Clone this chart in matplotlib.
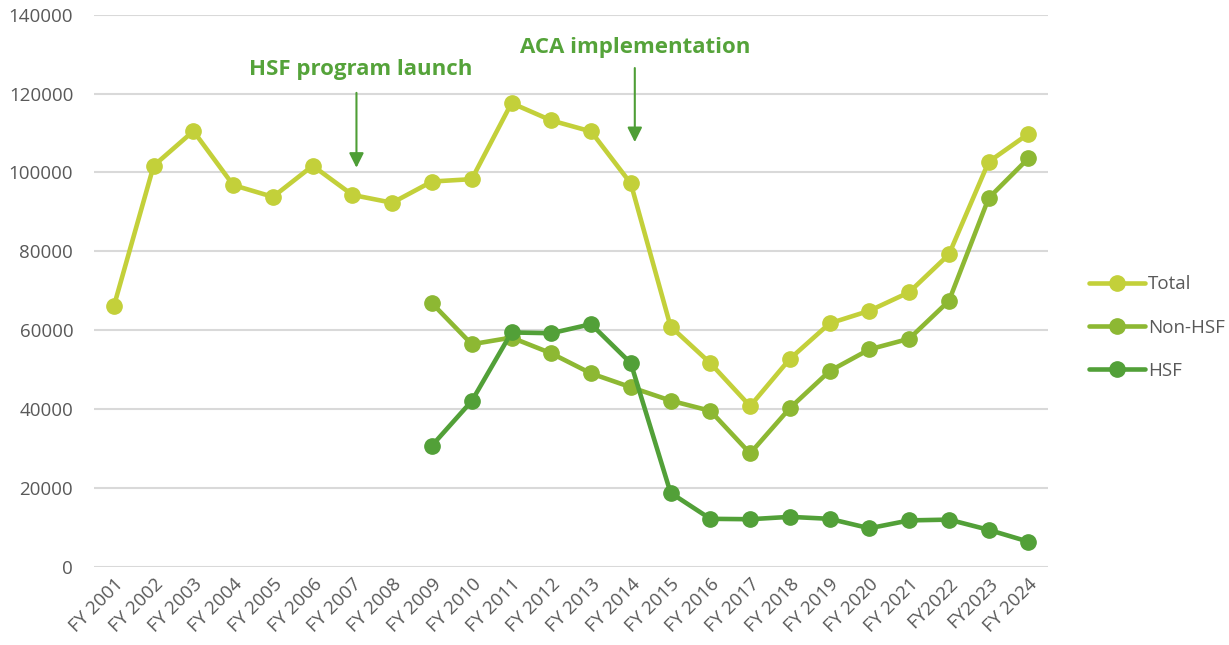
import numpy as np
import matplotlib.pyplot as plt

# Etiquetas do eixo x
anos = ["FY 2001", "FY 2002", "FY 2003", "FY 2004", "FY 2005", "FY 2006",
        "FY 2007", "FY 2008", "FY 2009", "FY 2010", "FY 2011", "FY 2012",
        "FY 2013", "FY 2014", "FY 2015", "FY 2016", "FY 2017", "FY 2018",
        "FY 2019", "FY 2020", "FY 2021", "FY2022", "FY2023", "FY 2024"]

total = [66100, 101700, 110500, 96800, 93800, 101700, 94300, 92300,
         97700, 98300, 117600, 113200, 110400, 97200, 60900, 51600,
         40700, 52700, 61700, 64900, 69600, 79200, 102700, 109800]

# Non-HSF e HSF começam em FY 2009
non_hsf = [None] * 8 + [66800, 56400, 58100, 54100, 49000, 45500, 42100,
                        39500, 28700, 40200, 49600, 55100, 57800, 67400,
                        93500, 103600]
hsf = [None] * 8 + [30700, 42000, 59400, 59200, 61500, 51600, 18700,
                    12100, 12000, 12600, 12100, 9700, 11700, 11900,
                    9300, 6300]

y_ticks = [0, 20000, 40000, 60000, 80000, 100000, 120000, 140000]

plt.rcParams['font.family'] = ['Open Sans', 'DejaVu Sans']

x = np.arange(len(anos))


def serie(valores):
    return np.array([np.nan if v is None else v for v in valores], dtype=float)


fig = plt.figure(figsize=(12.29, 6.45), dpi=100)
ax = fig.add_axes([0.0765, 0.1217, 0.7765, 0.8553])

ax.plot(x, serie(total), color="#C3D03A", linewidth=3.3, marker="o",
        markersize=11, label="Total", solid_capstyle="round")
ax.plot(x, serie(non_hsf), color="#8DB833", linewidth=3.3, marker="o",
        markersize=11, label="Non-HSF", solid_capstyle="round")
ax.plot(x, serie(hsf), color="#52A038", linewidth=3.3, marker="o",
        markersize=11, label="HSF", solid_capstyle="round")

ax.set_xlim(-0.5, len(anos) - 0.5)
ax.set_ylim(0, 140000)
ax.set_yticks(y_ticks)
ax.set_yticklabels([str(v) for v in y_ticks])
ax.set_xticks(x)
ax.set_xticklabels(anos, rotation=45, ha="right", rotation_mode="anchor")
ax.tick_params(axis="both", length=0, labelsize=13.5, colors="#595959")
ax.tick_params(axis="y", pad=15)
ax.tick_params(axis="x", pad=6)
ax.grid(True, axis="y", color="#D9D9D9", linewidth=1.5)
ax.set_axisbelow(True)
for s in ax.spines.values():
    s.set_visible(False)

# Anotações
verde = "#55A33A"
ax.text(6.2, 126200, "HSF program launch", color=verde, fontsize=16,
        fontweight="bold", ha="center", va="center")
ax.annotate("", xy=(6.1, 101200), xytext=(6.1, 120200),
            arrowprops=dict(arrowstyle="-|>", color="#4E9E36", lw=1.5,
                            mutation_scale=22, shrinkA=0, shrinkB=0))
ax.text(13.1, 131700, "ACA implementation", color=verde, fontsize=16,
        fontweight="bold", ha="center", va="center")
ax.annotate("", xy=(13.1, 107700), xytext=(13.1, 126500),
            arrowprops=dict(arrowstyle="-|>", color="#4E9E36", lw=1.5,
                            mutation_scale=22, shrinkA=0, shrinkB=0))

leg = ax.legend(loc="center left", bbox_to_anchor=(1.025, 0.433), frameon=False,
                fontsize=13.5, handlelength=3.0, labelspacing=1.35,
                handletextpad=0.15)
for t in leg.get_texts():
    t.set_color("#595959")

plt.savefig("out.png", dpi=100)
